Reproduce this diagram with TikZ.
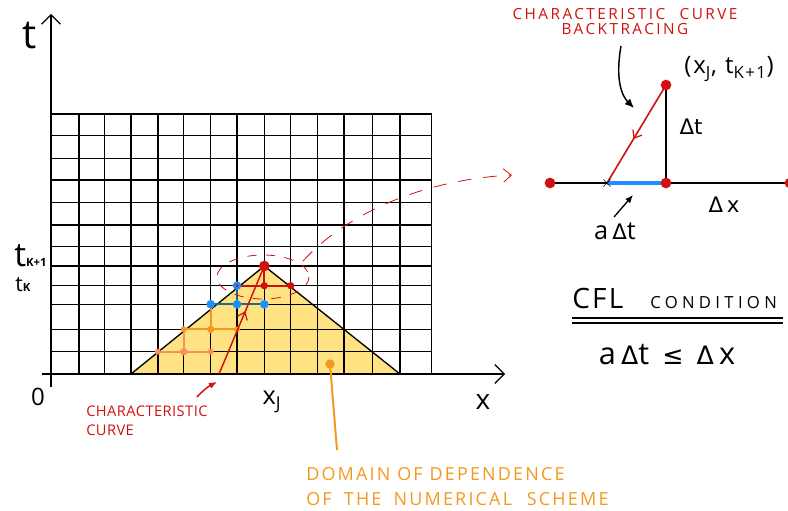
\documentclass[tikz,border=0pt]{standalone}
\usepackage{fontspec}
\setmainfont{Open Sans}
\newfontfamily\symfont{DejaVu Sans}
\usetikzlibrary{arrows.meta,decorations.markings}
\definecolor{cred}{HTML}{D11010}
\definecolor{cblue}{HTML}{1E8FFF}
\definecolor{cteal}{HTML}{1D6E78}
\definecolor{corange}{HTML}{F39A1E}
\definecolor{csalmon}{HTML}{F7905E}
\definecolor{cyellow}{HTML}{FFE382}
\tikzset{
  gridline/.style={line width=1pt, black},
  axisline/.style={line width=0.9pt, -{Straight Barb[length=7pt,width=14pt,line width=0.9pt]}},
  dotnode/.style={circle, inner sep=0pt, minimum size=5.5pt, fill=#1},
  bigdot/.style={circle, inner sep=0pt, minimum size=8pt, fill=#1},
  midarrow/.style={postaction={decorate}, decoration={markings,
      mark=at position #1 with {\arrow{Straight Barb[length=5pt,width=8pt,line width=0.9pt]}}}},
  lbl/.style={inner sep=0pt, text=black},
  redlbl/.style={inner sep=0pt, text=cred, font=\fontsize{11}{13}\selectfont\addfontfeature{LetterSpace=3}},
  orlbl/.style={inner sep=0pt, text=corange, anchor=west, font=\fontsize{13.5}{16}\selectfont\addfontfeature{LetterSpace=12}},
}
\begin{document}
\begin{tikzpicture}[x=0.75pt,y=-0.75pt]
\useasboundingbox (0,0) rectangle (788,510);
% domain of dependence
\fill[cyellow] (131,374) -- (264.3,266) -- (400,374) -- cycle;
% grid
\foreach \x in {51,79,104.7,131,158,183.7,210.7,237,264.3,290.7,317.7,344,372.7,400,431.7}
  \draw[gridline] (\x,114) -- (\x,374);
\foreach \y in {114,135.7,158.3,180,202.7,225,246.7,266,285.7,304.3,329.3,351.7}
  \draw[gridline] (51,\y) -- (431.7,\y);
\draw[line width=1pt] (131,374) -- (264.3,266) -- (400,374);
% axes
\draw[axisline] (51,387) -- (51,14);
\draw[axisline] (42,374) -- (505,374);
\node[lbl, font=\fontsize{30}{30}\selectfont] (tlab) at (30,36) {t};
\node[lbl, font=\fontsize{21}{21}\selectfont] (xlab) at (483,402) {x};
\node[lbl, font=\fontsize{18}{18}\selectfont] (zero) at (38,397) {0};
\node[lbl, font=\fontsize{19}{19}\selectfont] (xj) at (272,402) {x\textsubscript{J}};
\node[lbl, anchor=base west] (tk1) at (14,266) {\fontsize{25}{25}\selectfont t\fontsize{8.5}{8.5}\selectfont\bfseries K+1};
\node[lbl, anchor=base west] (tk) at (15,291) {\fontsize{16}{16}\selectfont t\fontsize{8.5}{8.5}\selectfont\bfseries K};
% stencil nodes
\coordinate (apexc) at (264.3,266);
\coordinate (r1c) at (264.3,285.7);
\coordinate (r2c) at (290.7,285.7);
\coordinate (b0c) at (237,285.7);
\coordinate (b1c) at (210.7,304.3);
\coordinate (b2c) at (237,304.3);
\coordinate (b3c) at (264.3,304.3);
\coordinate (o1c) at (183.7,329.3);
\coordinate (o2c) at (210.7,329.3);
\coordinate (o3c) at (237,329.3);
\coordinate (s1c) at (158,351.7);
\coordinate (s2c) at (183.7,351.7);
\coordinate (s3c) at (210.7,351.7);
% lines
\draw[csalmon, line width=1.5pt] (s1c) -- (s3c);
\draw[csalmon, line width=1.5pt] (o1c) -- (s2c);
\draw[corange, line width=1.5pt] (o1c) -- (o3c);
\draw[corange, line width=1.5pt] (b1c) -- (o2c);
\draw[cteal, line width=1.5pt] (b1c) -- (b3c);
\draw[cteal, line width=1.5pt] (b0c) -- (b2c);
\draw[cred, line width=1.5pt] (b0c) -- (r2c);
\draw[cred, line width=1.5pt] (apexc) -- (r1c);
% dots
\node[dotnode=csalmon, minimum size=4.5pt] (s1) at (s1c) {};
\node[dotnode=csalmon] (s2) at (s2c) {};
\node[dotnode=csalmon, minimum size=4.5pt] (s3) at (s3c) {};
\node[dotnode=corange, minimum size=4.5pt] (o1) at (o1c) {};
\node[dotnode=corange] (o2) at (o2c) {};
\node[dotnode=corange, minimum size=4.5pt] (o3) at (o3c) {};
\node[dotnode=cblue, minimum size=6.5pt] (b1) at (b1c) {};
\node[dotnode=cblue, minimum size=6.5pt] (b2) at (b2c) {};
\node[dotnode=cblue, minimum size=6.5pt] (b3) at (b3c) {};
\node[dotnode=cblue, minimum size=6.5pt] (b0) at (b0c) {};
\node[dotnode=cred, minimum size=2.5pt] (b0in) at (b0c) {};
\node[dotnode=cred] (r1) at (r1c) {};
\node[dotnode=cred] (r2) at (r2c) {};
% characteristic curve
\coordinate (cfoot) at (219,374);
\node[bigdot=cred] (apex) at (apexc) {};
\draw[cred, line width=1.1pt, midarrow=0.58] (cfoot) -- (apex.center);
% zoom ellipse and dashed link
\draw[cred, line width=0.6pt, dash pattern=on 7pt off 7pt] (263,277) ellipse [x radius=46, y radius=22];
\coordinate (linkstart) at (303,261);
\coordinate (linkend) at (512,175);
\draw[cred, line width=0.6pt, dash pattern=on 10pt off 9pt, -{Straight Barb[length=6pt,width=10pt,line width=0.6pt]}]
  (linkstart) .. controls (345,215) and (420,180) .. (linkend);
% characteristic label
\node[redlbl, anchor=west] (charlab1) at (86,411) {CHARACTERISTIC};
\node[redlbl, anchor=west] (charlab2) at (86,430) {CURVE};
\coordinate (chararr) at (217,382);
\draw[cred, line width=1.1pt, -{Latex[length=6pt,width=5pt]}] (197,397) to[bend left=10] (chararr);
% domain label
\node[dotnode=corange, minimum size=7pt] (odot) at (330,364) {};
\coordinate (oend) at (337,450);
\draw[corange, line width=1.5pt] (odot.center) -- (oend);
\node[orlbl] (dom1) at (306,474) {DOMAIN OF DEPENDENCE};
\node[orlbl] (dom2) at (306,499) {OF\hspace{4pt} THE\hspace{4pt} NUMERICAL\hspace{6pt} SCHEME};
% ---------- right diagram ----------
\coordinate (Lc) at (550,183);
\coordinate (Mc) at (666,183);
\coordinate (Rc) at (790,183);
\coordinate (Pc) at (666,85);
\coordinate (Xc) at (607,183);
\draw[line width=1pt] (Lc) -- (Rc);
\draw[line width=1pt] (Pc) -- (Mc);
\draw[cblue, line width=3pt] (Xc) -- (Mc);
\draw[cred, line width=1.2pt, midarrow=0.55] (Pc) -- (Xc);
\node[inner sep=0pt, font=\fontsize{12}{12}\selectfont\bfseries] (cross) at (Xc) {$\times$};
\node[bigdot=cred] (L) at (Lc) {};
\node[bigdot=cred] (M) at (Mc) {};
\node[bigdot=cred] (R) at (Rc) {};
\node[bigdot=cred] (P) at (Pc) {};
\node[lbl, font=\fontsize{18}{18}\selectfont\addfontfeature{LetterSpace=8}] (plab) at (729,69) {(x\textsubscript{J}, t\textsubscript{K+1})};
\node[lbl, font=\fontsize{16}{16}\selectfont] (dtlab) at (691,127) {\symfont Δt};
\node[lbl, font=\fontsize{16}{16}\selectfont] (dxlab) at (724,205) {\symfont Δ\,x};
\node[lbl, font=\fontsize{19}{19}\selectfont] (adtlab) at (615,231) {a\,{\symfont\fontsize{16}{16}\selectfont Δ}t};
\draw[line width=1pt, -{Latex[length=6pt,width=5pt]}] (614,217) -- (633,195);
\node[redlbl, anchor=center, font=\fontsize{11.5}{11.5}\selectfont\addfontfeature{LetterSpace=16}] (backlab1) at (625,14) {CHARACTERISTIC\hspace{6pt} CURVE};
\node[redlbl, anchor=center, font=\fontsize{11.5}{11.5}\selectfont\addfontfeature{LetterSpace=16}] (backlab2) at (625,29) {BACKTRACING};
\coordinate (backend) at (634,108);
\draw[line width=1.1pt, -{Latex[length=7pt,width=6pt]}] (621,46) .. controls (615,80) and (622,96) .. (backend);
% CFL
\node[lbl, anchor=base west, font=\fontsize{21}{21}\selectfont\addfontfeature{LetterSpace=8}] (cfl) at (572,308) {CFL};
\node[lbl, anchor=base west, font=\fontsize{12.5}{12.5}\selectfont\addfontfeature{LetterSpace=26}] (cond) at (650,308) {CONDITION};
\draw[line width=1.1pt] (572,318) -- (783,318);
\draw[line width=1.1pt] (572,323) -- (783,323);
\node[lbl, font=\fontsize{23}{23}\selectfont] (ineq) at (667,355) {a\,{\symfont\fontsize{19}{19}\selectfont Δ}t\, {\symfont\fontsize{19}{19}\selectfont ≤}\, {\symfont\fontsize{19}{19}\selectfont Δ}\,x};
\end{tikzpicture}
\end{document}
